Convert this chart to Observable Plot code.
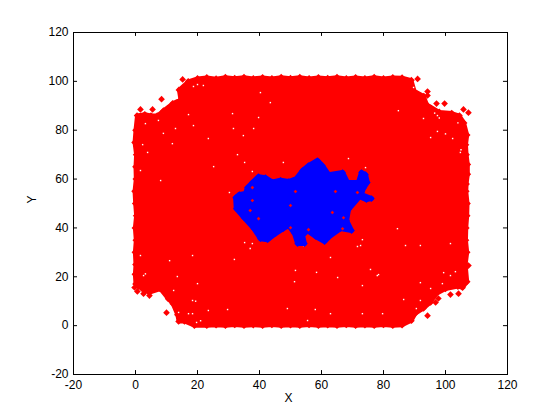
<!DOCTYPE html>
<html><head><meta charset="utf-8">
<script src="https://cdn.jsdelivr.net/npm/d3@7"></script>
<script src="https://cdn.jsdelivr.net/npm/@observablehq/plot@0.6"></script>
<style>html,body{margin:0;padding:0;background:#fff}svg{display:block}</style>
</head><body><div id="chart"></div>
<script>
const tickValues = [-20,0,20,40,60,80,100,120];
const redOutline = [
[0,25],[-0.2,30],[0.1,35],[-0.2,40],[0.2,45],[-0.1,50],[-0.3,55],[0.1,60],[0,65],[0.2,70],[-0.3,75],[0,80],[0.5,86],[3,86.5],[5,86],[7,86],[9,88],[12,91],[14.5,92.5],[14,96.5],[17,100],
[20,101.2],[23,101.6],[26,101.1],[29,101.7],[32,101.3],[35,101.7],[38,101.2],[41,101.6],[44,101.2],[47,101.7],[50,101.3],[53,101.7],[56,101.2],[59,101.6],[62,101.3],[65,101.7],[68,101.2],[71,101.6],[74,101.2],[77,101.7],[80,101.2],[83,101.6],[86,101.5],[89,100.5],
[90,96],[93,94],[94,90.5],[98,87.5],[102,87],[104.5,86],[106,83],[107,78],[106.6,74],[106.8,70],[107.2,66],[107.2,62],[106.8,58],[106.7,55],[107.1,50],[107,45],[106.7,40],[106.6,35],[107,30],[106.5,25],[107,18],[105.5,15.5],[104,16],[100,15],[97,13],[95.2,9.5],[92.9,7],[90.3,5],[89,2],
[86,0.2],[83,0],[80,0.3],[77,0],[74,0.2],[71,0],[68,0.3],[65,0],[62,0.2],[59,0],[56,0.3],[53,0],[50,0.2],[47,0],[44,0.3],[41,0],[38,0.2],[35,0],[32,0.3],[29,0],[26,0.2],[23,0],[19,0],[15.8,1.7],[13.9,1.7],[13.5,4.5],[12,9],[10.5,11],[8,15],[4.5,13.5],[2.6,14.5],[1,16],[0,17],[-0.2,21]
];
const redOutliers = [[1.6,88.5],[5.5,88.5],[8.4,92.7],[15.2,100.8],[91,101],[94.2,95.8],[94.2,94.2],[97.1,90.9],[99.7,90.9],[105.8,88.5],[107.4,87.2],[107.4,24.6],[104.2,13.1],[101.6,12.7],[97.7,11.1],[96.8,9.5],[94.2,4.1],[10,5.3],[4.5,12.3],[2.6,13.1],[0.6,14],[-0.3,15.6]];
const blueOutline = [
[32.3,52.4],[33.5,53.7],[35.5,54.1],[36.1,56.5],[37.7,58.6],[39.7,61],[41.9,60.6],[44.2,58.8],[46.8,59.5],[49.4,59],[51.9,60.2],[53.9,63.5],[55.8,65.5],[58.7,67.6],[60.3,65.5],[62.3,61.8],[66.8,62.7],[68.4,58.6],[71.9,58.6],[72.9,62.7],[74.2,61.8],[74.8,58.6],[73.5,56.1],[72.9,53.7],[76.1,52],[74.5,51.6],[72.3,52.8],[68.7,47.5],[68.1,43],[69.7,38.9],[66.1,39.7],[62.6,36.5],[61,34.4],[58.1,36.5],[55.5,38.9],[53.9,36.9],[54.5,33.6],[52.3,33.6],[51.3,37.7],[49.4,41],[47.7,39.7],[45.2,37.7],[42.6,35.2],[40.3,35.6],[38.2,39.7],[35,44.2],[32.5,47.9]
];
const redInBlue = [[37.7,51.2],[37,47.1],[50,49.2],[39.7,43.8],[37.7,56.5],[51.6,54.9],[67.1,44.2],[63.5,46.3],[71.6,54.5],[64.5,54.9],[66.8,39.7],[55.8,39.3],[50,40.1]];
const whiteSpecks = [
[17.1,86.4],[18.7,97.9],[20,98.7],[21.9,98.3],[31.3,86.8],[12.9,80.7],[9,78.7],[2.3,74.1],[3.9,70.9],[3.2,82.7],[7.4,84],[23.5,76.6],[11.9,74.5],[18.7,81.9],
[102.3,76.6],[97.4,79.5],[97.4,86],[92.9,84.8],[84.8,88],[89.7,97.5],[104.8,70.9],[95.2,77],[96.5,87],[98,85],[100,78.5],[104,83],[105,72],
[2.6,20.5],[3.2,21.2],[1.6,28.7],[11,26.6],[18.4,28.7],[13.5,20.1],[20,17.2],[12.3,14.4],[18.4,10.3],[19.4,10],[18.4,4.9],[17.1,4.9],[19.7,1.3],[21,2],[13.9,5.4],[29.7,6.6],[23.5,6.2],[31.9,27.1],
[75.8,23],[78,20.5],[73.2,16.4],[86.5,10.7],[91.9,17.6],[101.6,20.5],[99,17.2],[95.2,15.2],[91.9,10.3],[90.6,7],[79.7,4.9],[73.2,4.9],
[35.2,66.8],[37.7,63.1],[47.7,66.8],[30.3,54.5],[35.2,34],[37.7,33.6],[37,31.6],[68.7,68.4],[74.2,64.7],[73.2,35.2],[71.6,32.4],[54.2,32.8],
[40.3,95.4],[43.5,91.3],[39.7,85.2],[31.6,80.7],[38.1,80.7],[34.8,77.8],[32.9,70],[25.2,65.1],[8.1,59.4],[1.6,63.5],
[84.5,39.7],[87.1,32.8],[91.9,32.8],[101.6,33.6],[72.6,32.8],[62.9,27.9],[51.6,22.6],[58.4,21.8],[78.4,20.9],[65.2,19.7],[51.3,18],[49,7],[58,6.6],[62.9,4.9],[55.5,2.1],[99.4,21.7],[103.2,22.1]
];
const px = d => d[0], py = d => d[1];
const tickLenX = 1.6, tickLenY = 1.3;
const chart = Plot.plot({
  width: 560, height: 420,
  marginLeft: 73, marginRight: 53, marginTop: 32, marginBottom: 46,
  style: {background: "white", fontFamily: "'Liberation Sans', Arial, sans-serif", fontSize: "12px", color: "black"},
  x: {domain: [-20,120], label: null},
  y: {domain: [-20,120], label: null},
  marks: [
    Plot.line(redOutline, {x: px, y: py, fill: "#ff0000", stroke: "#ff0000", strokeWidth: 4, curve: "linear-closed"}),
    Plot.dot(redOutline.concat(redOutliers), {x: px, y: py, symbol: "diamond2", r: 3, fill: "#ff0000", stroke: "none"}),
    Plot.dot(whiteSpecks, {x: px, y: py, symbol: "square", r: 0.8, fill: "white", stroke: "none"}),
    Plot.line(blueOutline, {x: px, y: py, fill: "#0000ff", stroke: "#0000ff", strokeWidth: 5, curve: "linear-closed"}),
    Plot.dot(blueOutline, {x: px, y: py, symbol: "diamond2", r: 3, fill: "#0000ff", stroke: "none"}),
    Plot.dot(redInBlue, {x: px, y: py, symbol: "diamond2", r: 1.6, fill: "#ff0000", stroke: "none"}),
    Plot.frame({stroke: "black"}),
    Plot.ruleX(tickValues, {y1: -20, y2: -20 + tickLenX, stroke: "black"}),
    Plot.ruleX(tickValues, {y1: 120, y2: 120 - tickLenX, stroke: "black"}),
    Plot.ruleY(tickValues, {x1: -20, x2: -20 + tickLenY, stroke: "black"}),
    Plot.ruleY(tickValues, {x1: 120, x2: 120 - tickLenY, stroke: "black"}),
    Plot.axisX(tickValues, {anchor: "bottom", tickSize: 0, tickPadding: 6, fontSize: 12, fill: "black", label: null, tickFormat: String}),
    Plot.axisY(tickValues, {anchor: "left", tickSize: 0, tickPadding: 5, fontSize: 12, fill: "black", label: null, tickFormat: String}),
    Plot.text(["X"], {frameAnchor: "bottom", dy: 27, dx: -2, fontSize: 12, fill: "black", text: d => d}),
    Plot.text(["Y"], {frameAnchor: "left", dx: -41, rotate: -90, fontSize: 12, fill: "black", text: d => d})
  ]
});
document.getElementById("chart").append(chart);
</script></body></html>
